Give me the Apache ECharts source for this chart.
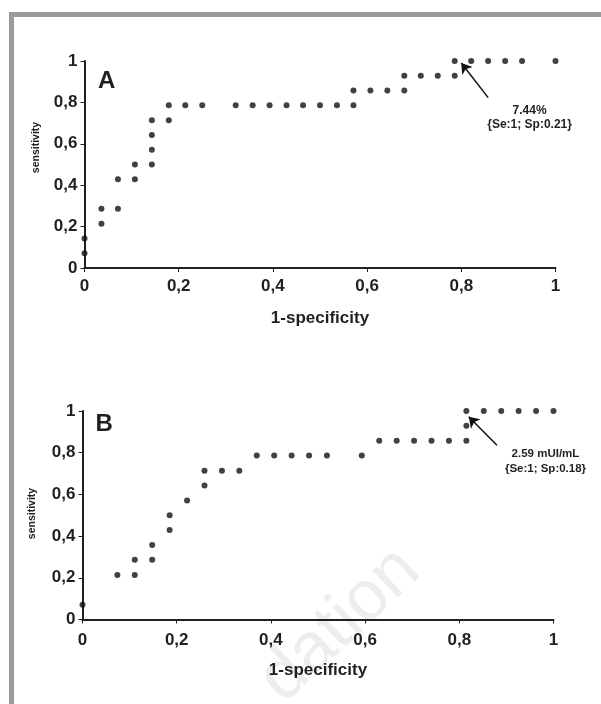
<!DOCTYPE html>
<html>
<head>
<meta charset="utf-8">
<script src="https://cdn.jsdelivr.net/npm/echarts@6/dist/echarts.min.js"></script>
<style>
  html, body { margin: 0; padding: 0; background: #fff; }
  #main { width: 601px; height: 704px; }
</style>
</head>
<body>
<div id="main"></div>
<script>
// 数据: ROC A (1-specificity, sensitivity)
var fprA = [0, 0, 0.036, 0.036, 0.071, 0.071, 0.107, 0.107, 0.143, 0.143, 0.143, 0.143,
  0.179, 0.179, 0.214, 0.25, 0.321, 0.357, 0.393, 0.429, 0.464, 0.5, 0.536, 0.571, 0.571,
  0.607, 0.643, 0.679, 0.679, 0.714, 0.75, 0.786, 0.786, 0.821, 0.857, 0.893, 0.929, 1];
var tprA = [0.071, 0.143, 0.214, 0.286, 0.286, 0.429, 0.429, 0.5, 0.5, 0.571, 0.643, 0.714,
  0.714, 0.786, 0.786, 0.786, 0.786, 0.786, 0.786, 0.786, 0.786, 0.786, 0.786, 0.786, 0.857,
  0.857, 0.857, 0.857, 0.929, 0.929, 0.929, 0.929, 1, 1, 1, 1, 1, 1];
// 数据: ROC B
var fprB = [0, 0.074, 0.111, 0.111, 0.148, 0.148, 0.185, 0.185, 0.222, 0.259, 0.259, 0.296,
  0.333, 0.370, 0.407, 0.444, 0.481, 0.519, 0.593, 0.630, 0.667, 0.704, 0.741, 0.778, 0.815,
  0.815, 0.815, 0.852, 0.889, 0.926, 0.963, 1];
var tprB = [0.071, 0.214, 0.214, 0.286, 0.286, 0.357, 0.429, 0.5, 0.571, 0.643, 0.714, 0.714,
  0.714, 0.786, 0.786, 0.786, 0.786, 0.786, 0.786, 0.857, 0.857, 0.857, 0.857, 0.857, 0.857,
  0.929, 1, 1, 1, 1, 1, 1];
var tickLabels = ['0', '0,2', '0,4', '0,6', '0,8', '1'];
// 标注
var noteA = ['7.44%', '{Se:1; Sp:0.21}'];
var noteB = ['2.59 mUI/mL', '{Se:1; Sp:0.18}'];

var font = "'Liberation Sans', Arial, sans-serif";
var ink = '#231f20';

function pairs(xs, ys) {
  var out = [];
  for (var i = 0; i < xs.length; i++) out.push([xs[i], ys[i]]);
  return out;
}
function fmt(v) {
  return tickLabels[Math.round(v * 5)];
}

function axisX(gi, lblMargin) {
  return {
    gridIndex: gi, type: 'value', min: 0, max: 1, interval: 0.2,
    name: '1-specificity', nameLocation: 'middle', nameGap: 42,
    nameTextStyle: { color: ink, fontFamily: font, fontWeight: 'bold', fontSize: 17 },
    axisLine: { show: true, lineStyle: { color: ink, width: 2 } },
    axisTick: { show: true, length: 4, lineStyle: { color: ink, width: 1 } },
    axisLabel: { color: ink, fontFamily: font, fontWeight: 'bold', fontSize: 17, margin: lblMargin, formatter: fmt },
    splitLine: { show: false }
  };
}
function axisY(gi) {
  return {
    gridIndex: gi, type: 'value', min: 0, max: 1, interval: 0.2,
    axisLine: { show: true, lineStyle: { color: ink, width: 2 } },
    axisTick: { show: true, length: 4, lineStyle: { color: ink, width: 1 } },
    axisLabel: { color: ink, fontFamily: font, fontWeight: 'bold', fontSize: 17, margin: 7, formatter: fmt },
    splitLine: { show: false }
  };
}
function rocSeries(gi, xs, ys, arrow, notePos, note, noteSize, noteLh) {
  return {
    type: 'scatter', xAxisIndex: gi, yAxisIndex: gi,
    data: pairs(xs, ys),
    symbol: 'circle', symbolSize: 6,
    itemStyle: { color: '#111' },
    clip: false, silent: true,
    markLine: {
      silent: true,
      symbol: ['none', 'arrow'], symbolSize: 10,
      label: { show: false },
      lineStyle: { color: '#111', width: 1.5, type: 'solid' },
      data: [[{ coord: arrow[0] }, { coord: arrow[1] }]]
    },
    markPoint: {
      silent: true,
      symbol: 'circle', symbolSize: 0,
      label: {
        show: true, position: 'inside', color: ink, fontFamily: font, fontWeight: 'bold',
        fontSize: noteSize, lineHeight: noteLh, align: 'center',
        formatter: note.join('\n')
      },
      data: [{ coord: notePos }]
    }
  };
}

var chart = echarts.init(document.getElementById('main'), null, { renderer: 'canvas' });
chart.setOption({
  backgroundColor: '#fff',
  animation: false,
  grid: [
    { left: 84.5, top: 61, width: 471, height: 207 },
    { left: 82.5, top: 411, width: 471, height: 208.5 }
  ],
  xAxis: [axisX(0, 10), axisX(1, 12)],
  yAxis: [axisY(0), axisY(1)],
  series: [
    rocSeries(0, fprA, tprA, [[0.857, 0.823], [0.8, 0.99]], [0.945, 0.727], noteA, 12, 13.5),
    rocSeries(1, fprB, tprB, [[0.88, 0.836], [0.82, 0.972]], [0.983, 0.759], noteB, 11.5, 15.5)
  ],
  graphic: [
    // 水印
    { type: 'text', x: 340, y: 625, rotation: Math.PI * 0.24, z: -10,
      style: { text: 'dation', fill: '#ededed', font: '70px ' + font, textAlign: 'center', textVerticalAlign: 'middle' } },
    // 灰色边框
    { type: 'rect', shape: { x: 9, y: 12, width: 592, height: 5 }, style: { fill: '#9b9b9b' } },
    { type: 'rect', shape: { x: 9, y: 12, width: 5, height: 692 }, style: { fill: '#9b9b9b' } },
    // 面板字母
    { type: 'text', x: 98, y: 81, style: { text: 'A', fill: ink, font: 'bold 24px ' + font, textVerticalAlign: 'middle' } },
    { type: 'text', x: 95.5, y: 424, style: { text: 'B', fill: ink, font: 'bold 24px ' + font, textVerticalAlign: 'middle' } },
    // y轴标题
    { type: 'text', x: 36, y: 147.5, rotation: Math.PI / 2,
      style: { text: 'sensitivity', fill: ink, font: 'bold 10.5px ' + font, textAlign: 'center', textVerticalAlign: 'middle' } },
    { type: 'text', x: 32, y: 513.5, rotation: Math.PI / 2,
      style: { text: 'sensitivity', fill: ink, font: 'bold 10.5px ' + font, textAlign: 'center', textVerticalAlign: 'middle' } }
  ]
});
</script>
</body>
</html>
